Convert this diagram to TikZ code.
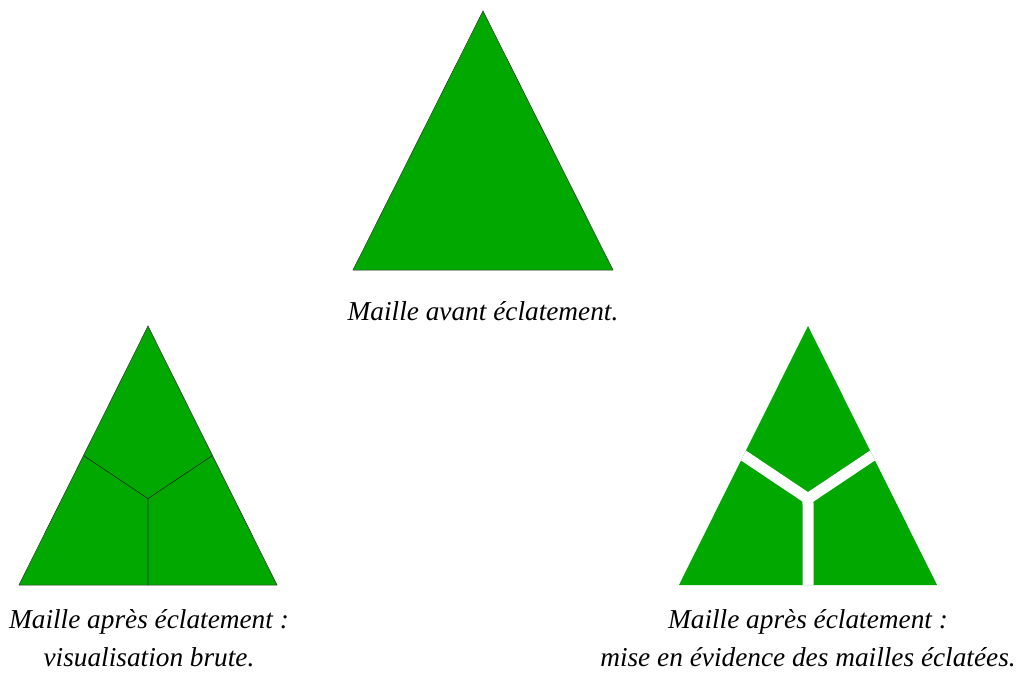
\documentclass[tikz,border=0pt]{standalone}
\usepackage{fontspec}
\setmainfont{Liberation Serif}
\usetikzlibrary{calc}
\definecolor{mailgreen}{RGB}{0,168,0}
\begin{document}
\begin{tikzpicture}[x=1pt,y=-1pt,
  maille/.style={fill=mailgreen,draw=black!80,line width=0.5pt,line join=miter},
  mailleplain/.style={fill=mailgreen},
  split/.style={draw=black!85,line width=0.6pt},
  gap/.style={draw=white,line width=11pt,line join=miter},
  legende/.style={anchor=base,font=\itshape\fontsize{27.3}{32}\selectfont,inner sep=0pt}]
\useasboundingbox (0,0) rectangle (1017,679);
% top triangle
\coordinate (a1) at (483,11);
\coordinate (b1) at (353,270);
\coordinate (c1) at (613,270);
\draw[maille] (a1) -- (b1) -- (c1) -- cycle;
% bottom-left triangle
\coordinate (a2) at (148,326);
\coordinate (b2) at (19,585);
\coordinate (c2) at (277,585);
\draw[maille] (a2) -- (b2) -- (c2) -- cycle;
\coordinate (g2) at (barycentric cs:a2=1,b2=1,c2=1);
\draw[split] ($(a2)!0.5!(b2)$) -- (g2) -- ($(a2)!0.5!(c2)$);
\draw[split] (g2) -- ($(b2)!0.5!(c2)$);
% bottom-right triangle
\coordinate (a3) at (808,326);
\coordinate (b3) at (679,585);
\coordinate (c3) at (937,585);
\fill[mailleplain] (a3) -- (b3) -- (c3) -- cycle;
\coordinate (g3) at (barycentric cs:a3=1,b3=1,c3=1);
\begin{scope}
\clip (a3) -- (b3) -- (c3) -- cycle;
\draw[gap] ($(g3)!1.2!($(a3)!0.5!(b3)$)$) -- (g3) -- ($(g3)!1.2!($(a3)!0.5!(c3)$)$);
\draw[gap] ($(g3)+(0,-6)$) -- ($(g3)!1.2!($(b3)!0.5!(c3)$)$);
\end{scope}
% captions
\node[legende] (t1) at (483,320) {Maille avant éclatement.};
\node[legende] (t2a) at (149,628) {Maille après éclatement :};
\node[legende] (t2b) at (149,666) {visualisation brute.};
\node[legende] (t3a) at (808,628) {Maille après éclatement :};
\node[legende] (t3b) at (808,666) {mise en évidence des mailles éclatées.};
\end{tikzpicture}
\end{document}
